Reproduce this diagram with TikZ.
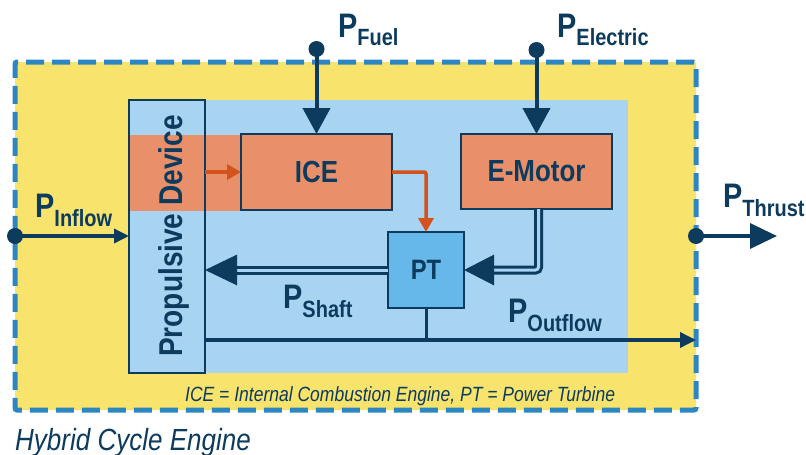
\documentclass[tikz,border=0pt]{standalone}
\usepackage{fontspec}
\setmainfont[FakeStretch=0.85]{Liberation Sans}
\usetikzlibrary{arrows.meta}
\definecolor{navy}{HTML}{0C3B5E}
\definecolor{bgyellow}{HTML}{F8E36D}
\definecolor{lightblue}{HTML}{A8D4F1}
\definecolor{orangefill}{HTML}{E9906A}
\definecolor{orangearrow}{HTML}{D2531C}
\definecolor{dashblue}{HTML}{2C86C2}
\definecolor{ptblue}{HTML}{66B7EA}
\newcommand{\plab}[1]{{\fontsize{34}{34}\selectfont P}\raisebox{-9pt}{\fontsize{23.5}{23.5}\selectfont #1}}
\begin{document}
\begin{tikzpicture}[x=1pt,y=-1pt,
  box/.style={draw=navy, line width=2pt, fill=orangefill, outer sep=0pt, inner sep=0pt,
    text=navy, font=\bfseries\fontsize{30.5}{30.5}\selectfont},
  conn/.style={draw=navy, line width=4pt},
  thinconn/.style={draw=navy, line width=3.5pt},
  dbl/.style={draw=navy, line width=3pt, double=lightblue, double distance=3pt},
  orarrow/.style={draw=orangearrow, line width=3.5pt, -{Triangle[length=14pt,width=15pt]}},
  plabel/.style={anchor=base west, inner sep=0pt, text=navy, font=\bfseries},
  dot/.style={fill=navy}
]
\useasboundingbox (0,0) rectangle (806,455);
% frame
\node[draw=dashblue, fill=bgyellow, line width=5pt, dash pattern=on 18pt off 8pt,
  rounded corners=2pt, minimum width=681pt, minimum height=348pt, inner sep=0pt, outer sep=0pt]
  (frame) at (355.5,236) {};
% inner light blue area
\fill[lightblue] (129,100) rectangle (628,373);
\fill[orangefill] (130,135) rectangle (241,211);
% propulsive device
\node[draw=navy, line width=2pt, minimum width=76pt, minimum height=273pt, inner sep=0pt, outer sep=0pt]
  (prop) at (167,236.5) {};
\node[rotate=90, anchor=base, inner sep=0pt, text=navy, font=\bfseries\fontsize{33}{33}\selectfont]
  (proptext) at (182,236) {Propulsive Device};
% boxes
\node[box, minimum width=151pt, minimum height=76pt] (ice) at (316.5,172) {ICE};
\node[box, minimum width=151pt, minimum height=75pt] (emotor) at (536.5,171.5) {E-Motor};
\node[box, fill=ptblue, minimum width=76pt, minimum height=76pt,
  font=\bfseries\fontsize{28}{28}\selectfont] (pt) at (426,270) {PT};
% input coordinates
\coordinate (fuel) at (316.5,49);
\coordinate (elec) at (536.5,50);
\coordinate (thrust) at (777,236);
% fuel and electric
\draw[conn, -{Triangle[length=26pt,width=27pt]}] (fuel) -- (ice.north);
\fill[dot] (fuel) circle (8pt);
\draw[conn, -{Triangle[length=26pt,width=27pt]}] (elec) -- (emotor.north);
\fill[dot] (elec) circle (8pt);
% inflow
\draw[thinconn, -{Triangle[length=15pt,width=14pt]}] (frame.west) -- (prop.west |- frame.west);
\fill[dot] (frame.west) circle (8pt);
% thrust
\draw[thinconn, -{Triangle[length=27pt,width=25pt]}] (frame.east) -- (thrust);
\fill[dot] (frame.east) circle (8pt);
% orange flows
\draw[orarrow] (prop.east |- ice.west) -- (ice.west);
\draw[orarrow, rounded corners=2pt] (ice.east) -| (pt.north);
% shaft power
\draw[dbl, rounded corners=3pt, -{Triangle[length=30pt,width=30pt]}] ([xshift=2pt]emotor.south) |- (pt.east);
\draw[dbl, -{Triangle[length=32pt,width=30pt]}] (pt.west) -- (prop.east |- pt.west);
% outflow
\draw[thinconn, -{Triangle[length=16pt,width=15pt]}] (prop.east |- 0,340) -- (frame.east |- 0,340);
\draw[draw=navy, line width=3pt] (pt.south) -- (pt.south |- 0,340);
% labels
\node[plabel] (lfuel) at (338,37) {\plab{Fuel}};
\node[plabel] (lelec) at (557,37) {\plab{Electric}};
\node[plabel] (linflow) at (35,217) {\plab{Inflow}};
\node[plabel] (lthrust) at (723,207) {\plab{Thrust}};
\node[plabel] (lshaft) at (283,308) {\plab{Shaft}};
\node[plabel] (loutflow) at (508,322) {\plab{Outflow}};
% captions
\node[anchor=base west, inner sep=0pt, text=navy, font=\itshape\fontsize{20.6}{20.6}\selectfont]
  (legend) at (185,401) {ICE = Internal Combustion Engine, PT = Power Turbine};
\node[anchor=base west, inner sep=0pt, text=navy, font=\itshape\fontsize{30.6}{30.6}\selectfont]
  (title) at (15,450) {Hybrid Cycle Engine};
\end{tikzpicture}
\end{document}
